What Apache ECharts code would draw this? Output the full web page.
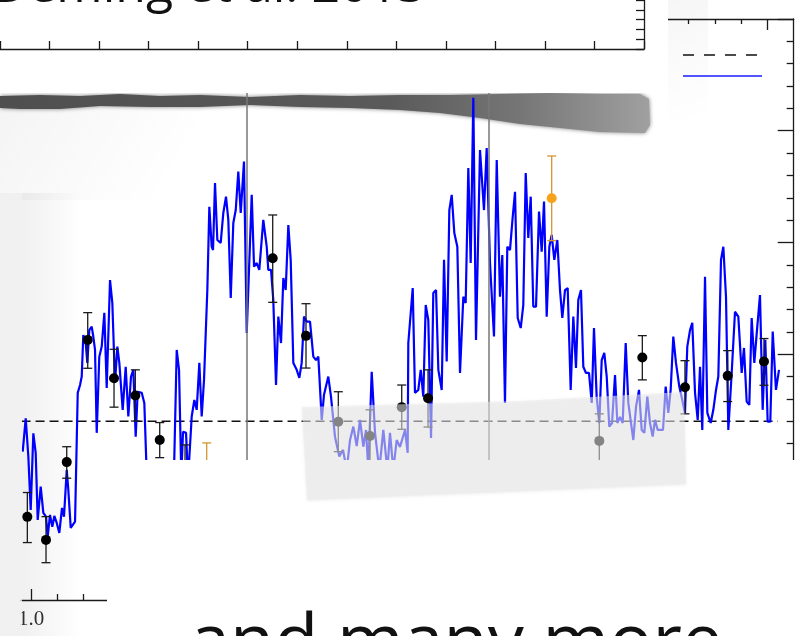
<!DOCTYPE html>
<html><head><meta charset="utf-8">
<script src="https://cdn.jsdelivr.net/npm/echarts@6/dist/echarts.min.js"></script>
<style>html,body{margin:0;padding:0;background:#fff}#c{width:807px;height:636px}</style>
</head><body><div id="c"></div>
<script>
// ---- data (wavelength in micron, depth in arbitrary units) ----
const wavelength = [0.9842,0.9899,0.9949,0.9994,1.0044,1.0089,1.0127,1.0184,1.0234,1.0285,1.0317,1.0361,1.0405,1.0443,1.0489,1.0538,1.0589,1.0627,1.0679,1.0709,1.0755,1.0837,1.0888,1.0932,1.0964,
1.0994,1.1040,1.1070,1.1108,1.1154,1.1184,1.1217,1.1249,1.1298,1.1344,1.1394,1.1439,1.1502,1.1546,1.1597,1.1641,1.1679,1.1743,1.1800,1.1850,1.1901,1.1945,1.1990,1.2028,1.2105,1.2154,1.2200,1.2300,1.2452,1.2605,1.2719,1.2770,1.2814,1.2857,1.2890,1.2947,1.2985,1.3055,1.3105,1.3150,1.3200,1.3245,1.3289,1.3352,1.3390,1.3435,1.3460,1.3498,1.3542,1.3606,1.3656,1.3707,1.3751,1.3797,1.3846,1.3892,1.3941,1.3987,1.4049,1.4101,1.4196,1.4240,1.4291,1.4340,1.4416,1.4481,1.4511,1.4563,1.4606,1.4658,1.4702,1.4753,1.4797,1.4842,1.4892,1.4937,1.4987,1.5051,1.5101,1.5146,1.5190,1.5241,1.5304,1.5367,1.5418,1.5462,1.5527,1.5570,1.5652,1.5703,1.5747,1.5779,1.5861,1.5932,1.6002,1.6065,1.6128,1.6192,1.6255,1.6318,1.6369,1.6413,1.6477,1.6540,1.6622,1.6698,1.6774,1.6825,1.6888,1.6952,1.7015,1.7110,1.7161,
1.7173,1.7257,1.7300,1.7363,1.7409,1.7458,1.7504,1.7553,1.7605,1.7648,1.7700,1.7744,1.7808,1.7852,1.7903,1.7953,1.7998,1.8048,1.8105,1.8156,1.8219,1.8264,1.8314,1.8359,1.8409,1.8460,1.8536,1.8612,1.8663,1.8726,1.8802,1.8854,1.8916,1.8960,1.9011,1.9055,1.9106,1.9158,1.9202,1.9253,1.9310,1.9359,1.9405,1.9454,1.9500,1.9549,1.9601,1.9658,1.9709,1.9753,1.9804,1.9854,1.9899,1.9949,2.0006,2.0057,2.0101,2.0152,2.0203,2.0260,2.0310,2.0361,2.0405,2.0456,2.0500,2.0551,2.0608,2.0660,2.0703,2.0754,2.0804,2.0850,2.0899,2.0945,2.0994,2.1046,2.1103,2.1147,2.1198,2.1249,2.1306,2.1356,2.1407,2.1451,2.1502,2.1559,2.1610,2.1660,2.1717,2.1768,2.1819,2.1863,2.1914,2.1971,2.2015,2.2066,2.2116,2.2161,2.2211,2.2262,2.2325,2.2382,2.2433,2.2477,2.2529,2.2572,2.2624,2.2675,2.2719,2.2762,2.2814,2.2858,2.2922,2.2972,2.3023,2.3067,2.3118,2.3162,2.3213,2.3257,2.3321,2.3384,2.3447,2.3511,2.3555,2.3606,2.3656,2.3701,2.3751,2.3802,2.3859,2.3910,2.3960,2.4005,2.4055,2.4101,2.4163,2.4221];
const modelDepth = [0.64,2.13,0.42,-1.97,1.46,0.58,-2.42,-0.93,-2.10,-2.27,-3.16,-2.19,-2.72,-2.24,-2.55,-3.00,-1.88,-2.27,-0.18,-1.07,-2.77,-2.49,3.27,3.62,4.00,
5.86,5.50,4.61,6.08,6.23,5.79,5.19,1.48,4.89,5.34,6.85,3.49,8.32,7.29,3.71,5.34,4.61,2.51,4.44,2.21,4.00,4.30,1.31,3.32,3.27,2.82,-0.40,-1.30,-0.98,-1.52,-0.18,5.19,4.30,-0.40,1.53,1.48,-0.63,2.21,2.95,2.51,4.61,2.21,3.85,7.87,11.60,9.81,9.66,12.66,10.11,9.98,11.32,12.05,11.01,7.52,10.87,11.45,13.17,11.32,13.62,5.95,12.13,8.92,9.08,8.77,11.01,9.81,8.77,8.77,7.43,3.62,6.68,5.50,8.41,7.87,10.78,9.22,4.61,4.30,3.94,4.61,6.68,6.46,6.46,4.89,4.74,4.89,2.06,3.18,4.00,3.10,2.06,1.31,0.42,0.72,-0.18,1.16,1.76,0.89,2.06,0.86,1.61,-0.18,4.21,1.48,-0.18,1.61,-0.18,1.48,-0.18,1.16,0.85,1.61,0.58,
5.50,7.96,3.27,3.40,4.30,3.10,7.20,6.53,1.25,7.74,7.87,4.30,3.40,9.22,4.67,11.45,12.13,10.42,9.81,4.16,7.57,7.29,13.33,9.08,16.47,5.64,14.14,11.45,14.23,9.08,5.79,13.69,7.57,9.44,2.82,9.81,9.66,11.15,12.27,6.62,6.17,7.20,13.11,10.20,12.05,7.13,7.13,11.38,9.59,11.83,6.68,9.81,10.34,9.22,10.11,7.87,6.62,7.87,7.96,3.40,6.68,4.38,7.43,7.87,4.44,4.16,4.16,2.82,6.17,3.10,1.92,4.74,5.06,4.00,1.76,1.92,4.07,1.92,2.19,1.92,5.50,2.82,1.92,1.16,2.64,3.40,1.61,1.48,3.10,1.92,1.31,2.06,1.61,1.61,1.61,3.55,2.37,3.40,5.79,4.61,3.55,2.95,2.37,5.34,6.08,6.40,3.27,2.06,4.44,1.61,8.47,2.37,1.92,2.51,3.40,4.00,9.22,9.81,7.57,1.61,4.16,6.90,6.68,4.16,5.28,2.88,2.73,6.62,4.61,6.08,7.65,2.51,5.64,1.98,1.98,6.01,3.40,4.30];

const flatWl = [0.982, 2.42];
const flatDepth = [2, 2];
const bandWl = [1.4106, 1.8688];

const obsWl    = [0.9930,1.0285,1.0679,1.1078,1.1578,1.1983,1.2447,1.2928,1.4595,1.5228,1.5842,1.6445,1.7048,1.7548,2.0804,2.1622,2.2433,2.3245,2.3935];
const obsDepth = [-2.28,-3.31,0.17,5.64,3.92,3.15,1.16,-0.54,9.29,5.82,1.98,1.34,2.63,3.03,1.12,4.85,3.52,4.03,4.67];
const obsLo    = [-3.43,-4.33,-0.55,4.37,2.63,2.01,0.37,-2.01,7.32,4.38,0.64,0.19,1.64,1.74,-0.09,3.85,2.33,2.88,3.61];
const obsHi    = [-1.19,-2.27,0.86,6.86,5.22,4.30,1.94,0.94,11.23,7.26,3.32,2.51,3.62,4.30,2.33,5.83,4.71,5.16,5.70];

const altWl    = [1.3340, 1.9899];
const altDepth = [-0.85, 11.98];
const altLo    = [-2.73, 10.08];
const altHi    = [1.03, 13.87];

const xMajor = [1.0,1.2,1.4,1.6,1.8,2.0,2.2,2.4];
const xMinor = [1.05,1.1,1.15,1.25,1.3,1.35,1.45,1.5,1.55,1.65,1.7,1.75,1.85,1.9,1.95,2.05,2.1,2.15,2.25,2.3,2.35];
const xLabels = [1.0];
const yMajor = [5,10,15,20];
const yMinor = [-5,-4,-3,-2,-1,0,1,2,3,4,6,7,8,9,11,12,13,14,16,17,18,19];

// ---- chart ----
const chart = echarts.init(document.getElementById('c'), null, {renderer:'canvas'});
const axisLine = {show:true, onZero:false, lineStyle:{color:'#1a1a1a', width:1.3}};
const noLine = {show:false, onZero:false};
const tickStyle = {color:'#1a1a1a', width:1.3};

function errItem(color){
  return function(params, api){
    const x = api.value(0), lo = api.value(1), hi = api.value(2);
    const a = api.coord([x, lo]), b = api.coord([x, hi]);
    const w = 4.5, st = {stroke: color, lineWidth: 1.3};
    return {type:'group', children:[
      {type:'line', shape:{x1:a[0],y1:a[1],x2:b[0],y2:b[1]}, style:st},
      {type:'line', shape:{x1:a[0]-w,y1:a[1],x2:a[0]+w,y2:a[1]}, style:st},
      {type:'line', shape:{x1:b[0]-w,y1:b[1],x2:b[0]+w,y2:b[1]}, style:st}
    ]};
  };
}

const option = {
  animation:false,
  backgroundColor:'#ffffff',
  grid:[
    {left:20.5, right:13.3, top:19, bottom:36, containLabel:false},
    {left:-19, right:163, top:-4, bottom:587, containLabel:false}
  ],
  xAxis:[
    {gridIndex:0, type:'value', position:'bottom', min:0.98, max:2.45, axisLine:axisLine,
     axisTick:{show:true, inside:true, length:11, lineStyle:tickStyle, customValues:xMajor},
     axisLabel:{show:true, customValues:xLabels, formatter:v=>v.toFixed(1), fontFamily:'Liberation Serif', fontSize:21, color:'#333', margin:9},
     splitLine:{show:false}},
    {gridIndex:0, type:'value', position:'bottom', min:0.98, max:2.45, axisLine:noLine,
     axisTick:{show:true, inside:true, length:6, lineStyle:tickStyle, customValues:xMinor},
     axisLabel:{show:false}, splitLine:{show:false}},
    {gridIndex:0, type:'value', position:'top', min:0.98, max:2.45, axisLine:axisLine,
     axisTick:{show:true, inside:true, length:11, lineStyle:tickStyle, customValues:xMajor},
     axisLabel:{show:false}, splitLine:{show:false}},
    {gridIndex:0, type:'value', position:'top', min:0.98, max:2.45, axisLine:noLine,
     axisTick:{show:true, inside:true, length:5, lineStyle:tickStyle, customValues:xMinor},
     axisLabel:{show:false}, splitLine:{show:false}},
    {gridIndex:1, type:'value', position:'bottom', min:0, max:13, interval:1, z:110, axisLine:axisLine,
     axisTick:{show:true, inside:true, length:8, lineStyle:tickStyle}, axisLabel:{show:false}, splitLine:{show:false}}
  ],
  yAxis:[
    {gridIndex:0, type:'value', position:'right', min:-6, max:20, axisLine:axisLine,
     axisTick:{show:true, inside:true, length:7, lineStyle:tickStyle, customValues:yMinor},
     axisLabel:{show:false}, splitLine:{show:false}},
    {gridIndex:0, type:'value', position:'right', min:-6, max:20, axisLine:noLine,
     axisTick:{show:true, inside:true, length:16, lineStyle:tickStyle, customValues:yMajor},
     axisLabel:{show:false}, splitLine:{show:false}},
    {gridIndex:1, type:'value', position:'right', min:0, max:5, interval:1, z:110, axisLine:axisLine,
     axisTick:{show:true, inside:true, length:8, lineStyle:tickStyle}, axisLabel:{show:false}, splitLine:{show:false}}
  ],
  series:[
    {type:'line', name:'flat', xAxisIndex:0, yAxisIndex:0, symbol:'none', z:3,
     data: flatWl.map((w,i)=>[w, flatDepth[i]]),
     lineStyle:{color:'#111', width:1.5, type:[9,5]}},
    {type:'line', name:'model', xAxisIndex:0, yAxisIndex:0, symbol:'none', z:4,
     data: wavelength.map((w,i)=>[w, modelDepth[i]]),
     lineStyle:{color:'#0000ff', width:2.2},
     markLine:{silent:true, symbol:'none', label:{show:false},
       lineStyle:{color:'#777', width:1.5, type:'solid'},
       data: bandWl.map(w=>({xAxis:w}))}},
    {type:'custom', name:'err', xAxisIndex:0, yAxisIndex:0, z:5,
     renderItem: errItem('#1a1a1a'), encode:{x:0, y:[1,2]},
     data: obsWl.map((w,i)=>[w, obsLo[i], obsHi[i]])},
    {type:'scatter', name:'obs', xAxisIndex:0, yAxisIndex:0, z:6, symbolSize:10,
     itemStyle:{color:'#000', opacity:1}, data: obsWl.map((w,i)=>[w, obsDepth[i]])},
    {type:'custom', name:'err2', xAxisIndex:0, yAxisIndex:0, z:5,
     renderItem: errItem('#d4962f'), encode:{x:0, y:[1,2]},
     data: altWl.map((w,i)=>[w, altLo[i], altHi[i]])},
    {type:'scatter', name:'obs2', xAxisIndex:0, yAxisIndex:0, z:6, symbolSize:10,
     itemStyle:{color:'#f7a21b', opacity:1}, data: altWl.map((w,i)=>[w, altDepth[i]])},
    {type:'line', name:'deming', xAxisIndex:4, yAxisIndex:2, data:[], symbol:'none'}
  ],
  graphic:[
    // faint haze / shadows beneath the chart
    {type:'rect', z:1, shape:{x:0,y:105,width:320,height:95},
     style:{fill:{type:'linear',x:0,y:0,x2:0.5,y2:1,colorStops:[{offset:0,color:'rgba(0,0,0,0.045)'},{offset:1,color:'rgba(0,0,0,0)'}]}}},
    {type:'rect', z:1, shape:{x:22,y:193,width:60,height:443},
     style:{fill:{type:'linear',x:0,y:0,x2:1,y2:0,colorStops:[{offset:0,color:'rgba(0,0,0,0.06)'},{offset:1,color:'rgba(0,0,0,0)'}]}}},
    {type:'rect', z:1, shape:{x:668,y:0,width:40,height:200},
     style:{fill:{type:'linear',x:0,y:0,x2:1,y2:0.6,colorStops:[{offset:0,color:'rgba(0,0,0,0.035)'},{offset:1,color:'rgba(0,0,0,0)'}]}}},
    // dark smear under the top paper
    {type:'polygon', z:1, shape:{points:[[0,96],[40,95],[80,96],[120,94],[160,96],[200,95],[250,97],[300,95],[350,96],[400,95],[450,95],[500,94],[550,93],[600,94],[640,94],[649,99],[650,125],[645,133],[600,132],[560,128],[520,124],[480,118],[440,113],[400,110],[350,108],[300,107],[250,105],[200,107],[150,107],[100,106],[60,109],[20,109],[0,108]]},
     style:{fill:{type:'linear',x:0,y:0,x2:1,y2:0,colorStops:[{offset:0,color:'#4f4f4f'},{offset:0.6,color:'#5a5a5a'},{offset:0.8,color:'#767676'},{offset:1,color:'#a0a0a0'}]}, shadowBlur:4, shadowColor:'rgba(70,70,70,0.7)'}},
    // top-left paper (Deming panel)
    {type:'rect', z:100, shape:{x:-20,y:-20,width:688,height:113,r:[0,0,14,0]}, style:{fill:'#ffffff'}},
    // white cover over lower part
    {type:'rect', z:90, shape:{x:107,y:460,width:700,height:176}, style:{fill:'#ffffff'}},
    // left paper strip
    {type:'rect', z:95, shape:{x:0,y:193,width:22,height:443}, style:{fill:'rgba(238,238,238,0.8)'}},
    // translucent tape
    {type:'polygon', z:95, shape:{points:[[302,407],[520,401],[684,392],[686,484],[307,500]]},
     style:{fill:'rgba(235,235,235,0.56)', shadowBlur:3, shadowColor:'rgba(0,0,0,0.12)', shadowOffsetY:1}},
    // legend samples
    {type:'line', z:96, shape:{x1:683,y1:55,x2:758,y2:55}, style:{stroke:'#111', lineWidth:1.3, lineDash:[11,10]}},
    {type:'line', z:96, shape:{x1:683,y1:76,x2:762,y2:76}, style:{stroke:'#1a1aff', lineWidth:1.3}},
    // texts
    {type:'text', z:120, style:{text:'Deming et al. 2013', x:-8, y:-12, fontFamily:'Open Sans', fontSize:50, fill:'#111', verticalAlign:'middle', align:'left'}},
    {type:'text', z:120, style:{text:'and many more', x:190, y:644, fontFamily:'Open Sans', fontSize:72, fill:'#111', verticalAlign:'middle', align:'left'}}
  ]
};
chart.setOption(option);
</script>
</body></html>
